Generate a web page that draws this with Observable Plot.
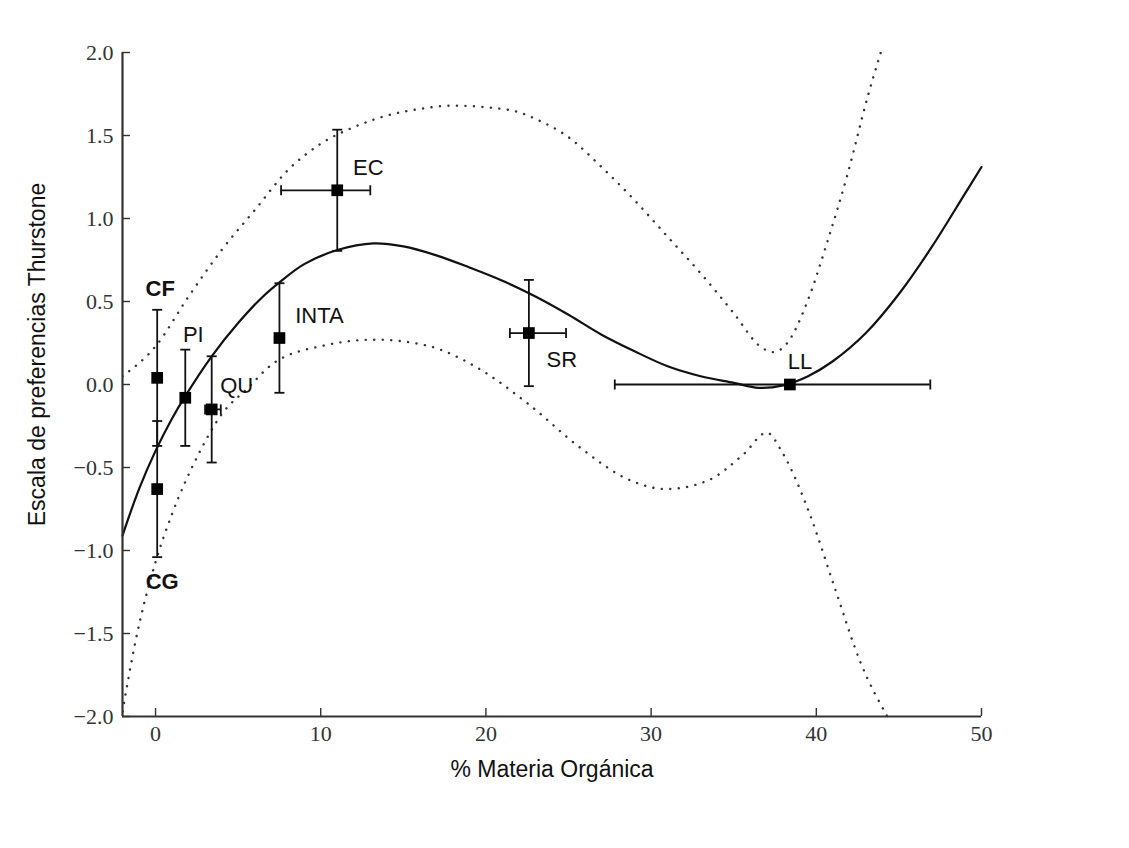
<!DOCTYPE html>
<html>
<head>
<meta charset="utf-8">
<script src="https://cdn.jsdelivr.net/npm/d3@7"></script>
<script src="https://cdn.jsdelivr.net/npm/@observablehq/plot@0.6"></script>
<style>
  html, body { margin: 0; padding: 0; background: #fff; }
</style>
</head>
<body>
<div id="chart"></div>
<script>
// ---------- data ----------
const sites = ["CF", "CG", "PI", "QU", "INTA", "EC", "SR", "LL"];
const organicMatter = [0.1, 0.1, 1.8, 3.4, 7.5, 11.0, 22.6, 38.4];
const organicMatterErrLow = [0, 0, 0, 0.4, 0, 3.4, 1.15, 10.6];
const organicMatterErrHigh = [0, 0, 0, 0.55, 0, 2.0, 2.25, 8.5];
const preference = [0.04, -0.63, -0.08, -0.15, 0.28, 1.17, 0.31, 0.0];
const preferenceErr = [0.41, 0.41, 0.29, 0.32, 0.33, 0.365, 0.32, 0];

// fitted curve
const fitX = [-2, -1, 0, 1, 1.8, 3.4, 5, 6.4, 7.5, 9, 11, 13.2, 15, 17, 19, 21, 23, 25, 27, 29, 31, 33, 35, 36.5, 38, 39.5, 41, 43, 45, 47, 49, 50];
const fitY = [-0.91, -0.63, -0.40, -0.205, -0.07, 0.17, 0.37, 0.52, 0.615, 0.725, 0.81, 0.85, 0.832, 0.778, 0.705, 0.625, 0.53, 0.42, 0.30, 0.20, 0.11, 0.05, 0.01, -0.02, -0.005, 0.05, 0.14, 0.31, 0.545, 0.83, 1.15, 1.31];

// upper confidence band
const upperX = [-2, 0, 2, 4, 6, 8, 10, 12, 14, 16, 18, 20, 22, 23, 25, 27, 29, 31, 33, 35, 36.6, 37.4, 38.2, 39.5, 40.7, 41.9, 43.1, 43.9];
const upperY = [0.05, 0.23, 0.53, 0.81, 1.05, 1.29, 1.45, 1.55, 1.62, 1.66, 1.68, 1.67, 1.64, 1.60, 1.49, 1.31, 1.11, 0.89, 0.67, 0.43, 0.23, 0.195, 0.245, 0.51, 0.87, 1.27, 1.73, 2.0];

// lower confidence band
const lowerX = [-2, -1.2, 0, 1, 2.5, 4, 5.6, 7.1, 10.2, 13.3, 16.4, 19.5, 22.6, 25.7, 28.8, 30.9, 33.4, 35.6, 37, 38, 39.6, 41.1, 42.7, 44.3];
const lowerY = [-1.97, -1.54, -1.07, -0.78, -0.44, -0.18, -0.02, 0.125, 0.235, 0.27, 0.235, 0.10, -0.12, -0.38, -0.58, -0.63, -0.58, -0.42, -0.29, -0.42, -0.78, -1.22, -1.68, -2.0];

const xTicks = [0, 10, 20, 30, 40, 50];
const yTicks = [-2, -1.5, -1, -0.5, 0, 0.5, 1, 1.5, 2];
const xDomain = [-2, 50];
const yDomain = [-2, 2];
const xLabel = "% Materia Orgánica";
const yLabel = "Escala de preferencias Thurstone";

// ---------- layout / style ----------
const W = 1129, H = 848;
const M = {left: 122, right: 148, top: 52, bottom: 132};
const frameW = W - M.left - M.right;
const frameH = H - M.top - M.bottom;
const tickLen = 8;
const ink = "#111";
const axisInk = "#333";
const labelOffsets = {
  CF:   {dx: 3,  dy: -89, bold: true},
  CG:   {dx: 5,  dy: 93,  bold: true},
  PI:   {dx: 8,  dy: -63},
  QU:   {dx: 25, dy: -23},
  INTA: {dx: 40, dy: -22},
  EC:   {dx: 31, dy: -22},
  SR:   {dx: 33, dy: 27},
  LL:   {dx: 10, dy: -23}
};

// ---------- tables ----------
const rows = sites.map((s, i) => ({
  site: s, x: organicMatter[i], xlo: organicMatter[i] - organicMatterErrLow[i], xhi: organicMatter[i] + organicMatterErrHigh[i],
  y: preference[i], ye: preferenceErr[i]
}));
const fit = fitX.map((x, i) => ({x, y: fitY[i]}));
const upper = upperX.map((x, i) => ({x, y: upperY[i]}));
const lower = lowerX.map((x, i) => ({x, y: lowerY[i]}));
const yErrRows = rows.filter(d => d.ye > 0);
const xErrRows = rows.filter(d => d.xhi > d.xlo);
const yCaps = yErrRows.flatMap(d => [{x: d.x, y: d.y - d.ye}, {x: d.x, y: d.y + d.ye}]);
const xCaps = xErrRows.flatMap(d => [{x: d.xlo, y: d.y}, {x: d.xhi, y: d.y}]);

const hCap = {draw(ctx, size) { const r = Math.sqrt(size / Math.PI); ctx.moveTo(-r, 0); ctx.lineTo(r, 0); }};
const vCap = {draw(ctx, size) { const r = Math.sqrt(size / Math.PI); ctx.moveTo(0, -r); ctx.lineTo(0, r); }};

const dotted = {stroke: "#333", strokeWidth: 2.4, strokeDasharray: "0.1,8.4", strokeLinecap: "round", curve: "monotone-x"};
const sans = "Liberation Sans, Arial, sans-serif";

const labelMarks = rows.map(d => {
  const o = labelOffsets[d.site];
  return Plot.text([d], {
    x: "x", y: "y", text: "site", dx: o.dx, dy: o.dy,
    fontFamily: sans, fontSize: 22, fontWeight: o.bold ? "bold" : "normal", fill: ink
  });
});

const chart = Plot.plot({
  width: W, height: H,
  marginLeft: M.left, marginRight: M.right, marginTop: M.top, marginBottom: M.bottom,
  style: {fontFamily: "Liberation Serif, serif", fontSize: "22px", color: axisInk, background: "#fff"},
  x: {domain: xDomain, ticks: xTicks},
  y: {domain: yDomain, ticks: yTicks},
  marks: [
    Plot.line(upper, {x: "x", y: "y", ...dotted, clip: true}),
    Plot.line(lower, {x: "x", y: "y", ...dotted, clip: true}),
    Plot.line(fit, {x: "x", y: "y", stroke: ink, strokeWidth: 2.2, curve: "catmull-rom"}),
    Plot.ruleX(yErrRows, {x: "x", y1: d => d.y - d.ye, y2: d => d.y + d.ye, stroke: ink, strokeWidth: 1.8}),
    Plot.ruleY(xErrRows, {y: "y", x1: "xlo", x2: "xhi", stroke: ink, strokeWidth: 1.8}),
    Plot.dot(yCaps, {x: "x", y: "y", symbol: hCap, r: 5, stroke: ink, strokeWidth: 1.8, fill: "none"}),
    Plot.dot(xCaps, {x: "x", y: "y", symbol: vCap, r: 5, stroke: ink, strokeWidth: 1.8, fill: "none"}),
    Plot.dot(rows, {x: "x", y: "y", symbol: "square", r: 6.6, fill: "#000", stroke: "none"}),
    ...labelMarks,
    // spines
    Plot.ruleX([xDomain[0]], {stroke: axisInk, strokeWidth: 2.2}),
    Plot.ruleY([yDomain[0]], {stroke: axisInk, strokeWidth: 2.2}),
    // inward ticks
    Plot.tickY(yTicks, {y: d => d, insetRight: frameW - tickLen, stroke: axisInk, strokeWidth: 1.4}),
    Plot.tickX(xTicks, {x: d => d, insetTop: frameH - tickLen, stroke: axisInk, strokeWidth: 1.4}),
    Plot.axisY(yTicks, {tickSize: 0, tickPadding: 9, tickFormat: d3.format(".1f"), label: null}),
    Plot.axisX(xTicks, {tickSize: 0, tickPadding: 9, tickFormat: d3.format("d"), label: null}),
    // axis titles
    Plot.text([xLabel], {frameAnchor: "bottom", text: d => d, textAnchor: "middle", lineAnchor: "middle", dy: 53, fontFamily: sans, fontSize: 23, fill: ink}),
    Plot.text([yLabel], {frameAnchor: "left", text: d => d, textAnchor: "middle", lineAnchor: "middle", rotate: -90, dx: -85, dy: -30, fontFamily: sans, fontSize: 23, fill: ink})
  ]
});
document.getElementById("chart").appendChild(chart);
</script>
</body>
</html>
